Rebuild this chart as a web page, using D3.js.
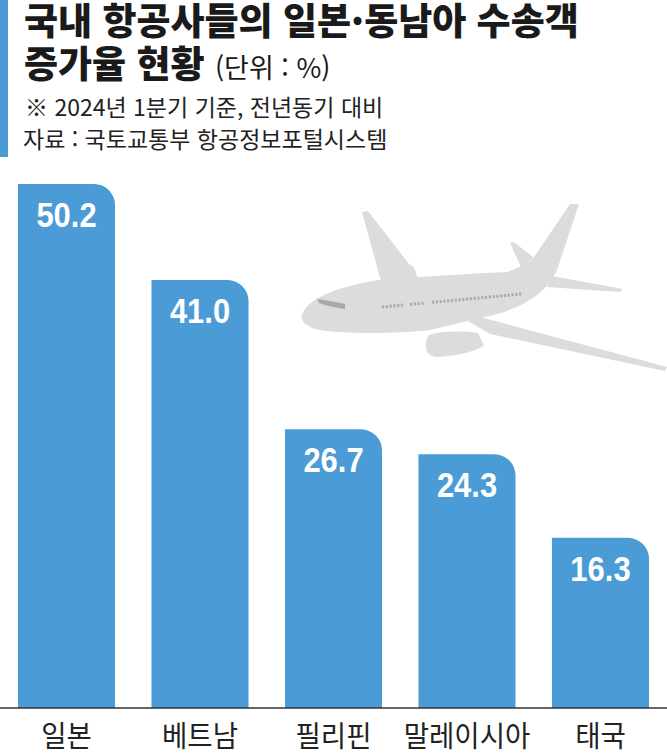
<!DOCTYPE html>
<html lang="ko">
<head>
    <meta charset="UTF-8">
    <title>국내 항공사들의 일본·동남아 수송객 증가율 현황</title>
    <style>
        body {
            margin: 0;
            background: #fff;
        }
        svg {
            display: block;
        }
        .title {
            font-family: "Noto Sans CJK KR", sans-serif;
            font-weight: 900;
            font-size: 37px;
            fill: #1a1a1a;
        }
        .unit {
            font-weight: 400;
            font-size: 27px;
        }
        .note {
            font-family: "Noto Sans CJK KR", sans-serif;
            font-size: 23px;
            fill: #222;
        }
        .value {
            font-family: "Liberation Sans", Arial, sans-serif;
            font-weight: 700;
            font-size: 36px;
            fill: #fff;
        }
        .x-axis text {
            font-family: "Noto Sans CJK KR", sans-serif;
            font-size: 29px;
            fill: #222;
        }
    </style>
</head>
<body>
<div id="chart"></div>

<script src="https://d3js.org/d3.v7.min.js"></script>
<script>
    // Data
    const countries = ["일본", "베트남", "필리핀", "말레이시아", "태국"];
    const growth = [50.2, 41.0, 26.7, 24.3, 16.3];

    const width = 667;
    const height = 754;
    const baseY = 708;
    const blue = "#4b9bd7";

    const svg = d3.select("#chart")
        .append("svg")
        .attr("width", width)
        .attr("height", height);

    // Header
    svg.append("rect")
        .attr("x", 0).attr("y", 0)
        .attr("width", 8).attr("height", 157)
        .attr("fill", blue);

    svg.append("text")
        .attr("class", "title")
        .attr("x", 24).attr("y", 35)
        .text("국내 항공사들의 일본·동남아 수송객");

    const t2 = svg.append("text")
        .attr("class", "title")
        .attr("x", 24).attr("y", 78);
    t2.append("tspan").text("증가율 현황 ");
    t2.append("tspan").attr("class", "unit").text("(단위 : %)");

    svg.append("text")
        .attr("class", "note")
        .attr("x", 25).attr("y", 116)
        .text("※ 2024년 1분기 기준, 전년동기 대비");

    svg.append("text")
        .attr("class", "note")
        .attr("x", 23).attr("y", 148)
        .text("자료 : 국토교통부 항공정보포털시스템");

    // Airplane illustration
    const plane = svg.append("g").attr("fill", "#dcdcdc");
    [
        "M302,315 C306,300 335,286 385,279 L485,273 L507,272 C520,268 528,262 535,258 L556,271 C546,295 520,310 480,318 L430,330 C400,334 340,334 320,330 C305,327 300,320 302,315 Z",
        "M381,281 L362,212 L368,211 L409,264 L414,267 L418,279 Z",
        "M521,267 L510,243 L514,242 L534,258 Z",
        "M530,263 L570,204 L579,204 L556,273 Z",
        "M552,276 L623,289 L620,292 L547,287 Z",
        "M468,321 L480,317 L667,367 L665,371 L490,334 Z",
        "M432,334 C445,331 465,331 478,333 L484,345 C476,352 455,356 438,357 C428,357 425,350 426,344 C426,338 428,335 432,334 Z"
    ].forEach(d => plane.append("path").attr("d", d));

    svg.append("path")
        .attr("d", "M317,299 C326,300 336,302 345,304 L345,309 C336,308 327,306 319,303 Z")
        .attr("fill", "#a8a8a8");

    // cabin windows
    const windowGroups = [[382, 403], [410, 425], [432, 522]];
    const winY = x => 307 - (x - 382) * (13 / 140);
    windowGroups.forEach(([a, b]) => {
        svg.append("line")
            .attr("x1", a).attr("y1", winY(a))
            .attr("x2", b).attr("y2", winY(b))
            .attr("stroke", "#ababab")
            .attr("stroke-width", 3)
            .attr("stroke-dasharray", "2.2 1.6");
    });

    // Scales
    const x = d3.scaleBand()
        .domain(countries)
        .range([18, 649])
        .paddingInner(0.273)
        .paddingOuter(0);

    const y = d3.scaleLinear()
        .domain([0, 50.2])
        .range([baseY, 184]);

    const data = countries.map((c, i) => ({ country: c, value: growth[i] }));
    const r = 21;

    // Bars: only the top-right corner is rounded
    svg.selectAll(".bar")
        .data(data)
        .enter()
        .append("path")
        .attr("class", "bar")
        .attr("fill", blue)
        .attr("d", d => {
            const x0 = x(d.country);
            const x1 = x0 + x.bandwidth();
            const top = y(d.value);
            return `M${x0},${baseY} L${x0},${top} L${x1 - r},${top} ` +
                `A${r},${r} 0 0 1 ${x1},${top + r} L${x1},${baseY} Z`;
        });

    // value labels, squeezed a little to look condensed
    svg.selectAll(".value")
        .data(data)
        .enter()
        .append("text")
        .attr("class", "value")
        .attr("text-anchor", "middle")
        .attr("transform", d =>
            `translate(${x(d.country) + x.bandwidth() / 2},${y(d.value) + 43}) scale(0.86,1)`)
        .text(d => d.value.toFixed(1));

    // Baseline
    svg.append("line")
        .attr("x1", 0).attr("x2", width)
        .attr("y1", baseY).attr("y2", baseY)
        .attr("stroke", "#333")
        .attr("stroke-width", 1.5);

    // Category labels
    const xAxis = svg.append("g")
        .attr("class", "x-axis")
        .attr("transform", `translate(0,${baseY})`)
        .call(d3.axisBottom(x).tickSize(0).tickPadding(0));

    xAxis.select(".domain").remove();
    xAxis.selectAll("text")
        .attr("dy", null)
        .attr("y", 0)
        .attr("transform", "translate(0,39) scale(0.95,1)");
</script>

</body>
</html>
